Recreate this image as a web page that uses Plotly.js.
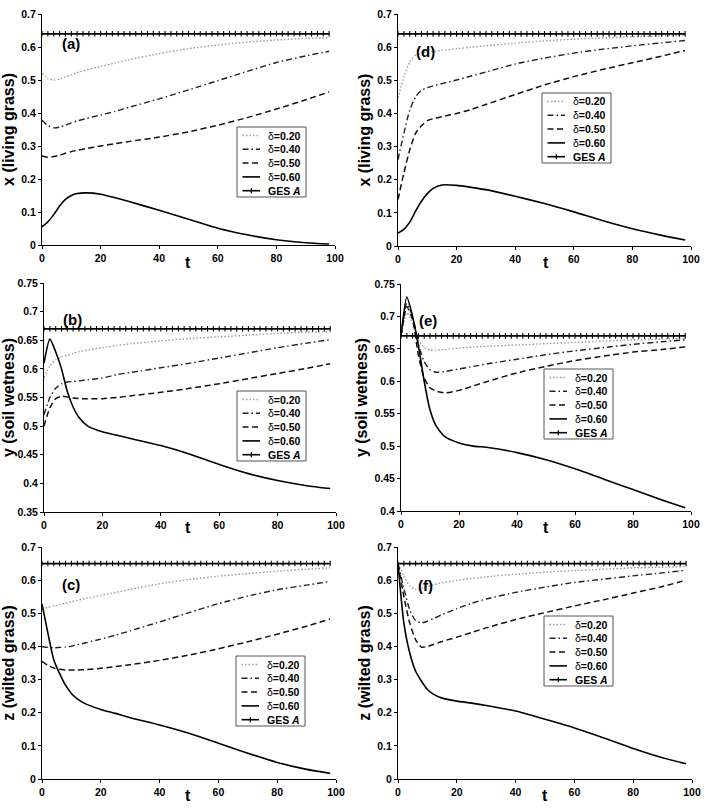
<!DOCTYPE html>
<html>
<head>
<meta charset="utf-8">
<script src="https://cdn.plot.ly/plotly-3.0.1.min.js"></script>
<style>
  html, body { margin: 0; padding: 0; background: #ffffff; }
  #chart { width: 706px; height: 811px; }
</style>
</head>
<body>
<div id="chart"></div>
<script>
// Time samples shared by every simulated trajectory
const t = [0, 2, 4, 6, 8, 10, 12, 15, 20, 25, 30, 40, 50, 60, 70, 80, 90, 98];
// Times at which the equilibrium line carries its "+" markers
const tGes = [0, 2, 4, 6, 8, 10, 12, 14, 16, 18, 20, 22, 24, 26, 28, 30, 32, 34, 36, 38,
              40, 42, 44, 46, 48, 50, 52, 54, 56, 58, 60, 62, 64, 66, 68, 70, 72, 74, 76, 78,
              80, 82, 84, 86, 88, 90, 92, 94, 96, 98];

// Equilibrium values (GES A)
const gesX = 0.64;
const gesY = 0.67;
const gesZ = 0.65;

const deltaLabels = ['δ=0.20', 'δ=0.40', 'δ=0.50', 'δ=0.60'];

// (a) living grass, first initial condition
const a_d20 = [0.520, 0.505, 0.500, 0.503, 0.510, 0.516, 0.522, 0.530, 0.541, 0.552, 0.562, 0.580, 0.595, 0.606, 0.615, 0.621, 0.626, 0.628];
const a_d40 = [0.378, 0.362, 0.355, 0.357, 0.363, 0.370, 0.376, 0.383, 0.394, 0.405, 0.418, 0.443, 0.470, 0.498, 0.526, 0.553, 0.573, 0.587];
const a_d50 = [0.270, 0.266, 0.268, 0.272, 0.278, 0.283, 0.287, 0.292, 0.300, 0.307, 0.314, 0.327, 0.343, 0.363, 0.386, 0.412, 0.440, 0.464];
const a_d60 = [0.055, 0.070, 0.092, 0.118, 0.138, 0.150, 0.156, 0.158, 0.154, 0.143, 0.131, 0.105, 0.078, 0.051, 0.031, 0.016, 0.007, 0.003];

// (b) soil wetness, first initial condition
const b_d20 = [0.585, 0.605, 0.616, 0.621, 0.624, 0.627, 0.630, 0.633, 0.637, 0.641, 0.644, 0.649, 0.653, 0.656, 0.659, 0.662, 0.664, 0.665];
const b_d40 = [0.520, 0.550, 0.566, 0.574, 0.577, 0.578, 0.579, 0.581, 0.584, 0.590, 0.594, 0.602, 0.610, 0.619, 0.628, 0.637, 0.645, 0.651];
const b_d50 = [0.500, 0.532, 0.548, 0.552, 0.551, 0.549, 0.548, 0.548, 0.548, 0.550, 0.553, 0.559, 0.566, 0.574, 0.583, 0.592, 0.601, 0.609];
const b_d60 = [0.610, 0.652, 0.630, 0.600, 0.560, 0.533, 0.515, 0.500, 0.490, 0.484, 0.478, 0.466, 0.451, 0.433, 0.417, 0.405, 0.396, 0.391];

// (c) wilted grass, first initial condition
const c_d20 = [0.515, 0.518, 0.522, 0.526, 0.530, 0.535, 0.539, 0.545, 0.554, 0.563, 0.572, 0.589, 0.602, 0.612, 0.620, 0.627, 0.633, 0.637];
const c_d40 = [0.400, 0.397, 0.396, 0.397, 0.398, 0.401, 0.405, 0.411, 0.422, 0.434, 0.447, 0.474, 0.502, 0.529, 0.552, 0.571, 0.585, 0.596];
const c_d50 = [0.355, 0.343, 0.335, 0.331, 0.329, 0.329, 0.329, 0.330, 0.334, 0.339, 0.345, 0.358, 0.374, 0.393, 0.414, 0.437, 0.461, 0.483];
const c_d60 = [0.528, 0.440, 0.360, 0.318, 0.283, 0.258, 0.242, 0.226, 0.210, 0.198, 0.185, 0.163, 0.138, 0.108, 0.078, 0.050, 0.029, 0.017];

// (d) living grass, second initial condition
const d_d20 = [0.447, 0.510, 0.555, 0.577, 0.583, 0.585, 0.587, 0.590, 0.595, 0.600, 0.604, 0.612, 0.619, 0.624, 0.628, 0.631, 0.634, 0.636];
const d_d40 = [0.260, 0.340, 0.410, 0.450, 0.470, 0.478, 0.483, 0.490, 0.501, 0.513, 0.525, 0.549, 0.567, 0.582, 0.594, 0.604, 0.613, 0.620];
const d_d50 = [0.140, 0.220, 0.290, 0.340, 0.363, 0.378, 0.384, 0.390, 0.400, 0.412, 0.427, 0.457, 0.486, 0.511, 0.533, 0.553, 0.573, 0.590];
const d_d60 = [0.039, 0.050, 0.072, 0.105, 0.135, 0.158, 0.174, 0.184, 0.183, 0.177, 0.170, 0.150, 0.128, 0.103, 0.076, 0.052, 0.032, 0.018];

// (e) soil wetness, second initial condition
const e_d20 = [0.670, 0.705, 0.690, 0.665, 0.652, 0.648, 0.648, 0.649, 0.651, 0.653, 0.654, 0.656, 0.658, 0.660, 0.662, 0.664, 0.665, 0.666];
const e_d40 = [0.670, 0.720, 0.700, 0.657, 0.630, 0.618, 0.614, 0.615, 0.619, 0.623, 0.627, 0.634, 0.641, 0.647, 0.652, 0.657, 0.661, 0.664];
const e_d50 = [0.670, 0.715, 0.695, 0.640, 0.605, 0.590, 0.585, 0.582, 0.586, 0.593, 0.600, 0.613, 0.623, 0.632, 0.639, 0.645, 0.649, 0.653];
const e_d60 = [0.670, 0.730, 0.700, 0.655, 0.600, 0.556, 0.532, 0.515, 0.505, 0.500, 0.498, 0.490, 0.479, 0.465, 0.449, 0.433, 0.417, 0.405];

// (f) wilted grass, second initial condition
const f_d20 = [0.650, 0.612, 0.583, 0.572, 0.575, 0.581, 0.586, 0.592, 0.599, 0.605, 0.610, 0.618, 0.624, 0.629, 0.633, 0.637, 0.639, 0.641];
const f_d40 = [0.650, 0.575, 0.510, 0.478, 0.471, 0.476, 0.484, 0.496, 0.514, 0.530, 0.543, 0.563, 0.579, 0.593, 0.603, 0.613, 0.622, 0.630];
const f_d50 = [0.650, 0.550, 0.470, 0.420, 0.398, 0.400, 0.406, 0.415, 0.428, 0.442, 0.456, 0.481, 0.502, 0.522, 0.541, 0.561, 0.581, 0.600];
const f_d60 = [0.650, 0.470, 0.380, 0.325, 0.295, 0.270, 0.256, 0.244, 0.235, 0.229, 0.222, 0.205, 0.180, 0.154, 0.124, 0.092, 0.064, 0.046];

// ---- drawing ----
const W = 706, H = 811;
const FONT = 'Liberation Sans, Arial, Helvetica, sans-serif';
const px = v => v / W;          // pixel column -> paper x
const py = v => 1 - v / H;      // pixel row    -> paper y

// line styles for the four δ values
const styles = [
  { color: '#9a9a9a', width: 1.4, dash: '1.5px,2px' },
  { color: '#222222', width: 1.4, dash: '6px,3px,1.5px,3px' },
  { color: '#111111', width: 1.5, dash: '6px,3.5px' },
  { color: '#000000', width: 1.6, dash: 'solid' }
];

const panels = [
  { tag: '(a)', ax: '',  series: [a_d20, a_d40, a_d50, a_d60], ges: gesX, title: 'x (living grass)',
    box: [42, 335, 14, 245], yr: [0, 0.7], dy: 0.1, label: [10, 0.61], leg: [237, 127], tPos: [188, 262] },
  { tag: '(b)', ax: '2', series: [b_d20, b_d40, b_d50, b_d60], ges: gesY, title: 'y (soil wetness)',
    box: [44, 336, 283, 512], yr: [0.35, 0.75], dy: 0.05, label: [9.6, 0.686], leg: [237, 391], tPos: [188, 527] },
  { tag: '(c)', ax: '3', series: [c_d20, c_d40, c_d50, c_d60], ges: gesZ, title: 'z (wilted grass)',
    box: [42, 336, 547, 779], yr: [0, 0.7], dy: 0.1, label: [9.9, 0.588], leg: [236, 656], tPos: [188, 795] },
  { tag: '(d)', ax: '4', series: [d_d20, d_d40, d_d50, d_d60], ges: gesX, title: 'x (living grass)',
    box: [398, 691, 14, 246], yr: [0, 0.7], dy: 0.1, label: [9.5, 0.588], leg: [542, 93], tPos: [546, 262] },
  { tag: '(e)', ax: '5', series: [e_d20, e_d40, e_d50, e_d60], ges: gesY, title: 'y (soil wetness)',
    box: [401, 691, 284, 511], yr: [0.4, 0.75], dy: 0.05, label: [9.3, 0.694], leg: [544, 369], tPos: [546, 527] },
  { tag: '(f)', ax: '6', series: [f_d20, f_d40, f_d50, f_d60], ges: gesZ, title: 'z (wilted grass)',
    box: [398, 692, 547, 779], yr: [0, 0.7], dy: 0.1, label: [9.2, 0.585], leg: [544, 616], tPos: [545, 795] }
];

const traces = [];
const layout = {
  width: W, height: H,
  margin: { l: 0, r: 0, t: 0, b: 0 },
  paper_bgcolor: '#ffffff', plot_bgcolor: '#ffffff',
  showlegend: false,
  font: { family: FONT, color: '#000000' },
  shapes: [], annotations: []
};

const tickFont = { family: FONT, size: 10.5, weight: 'bold', color: '#000000' };

panels.forEach(p => {
  const xa = 'x' + p.ax, ya = 'y' + p.ax;
  p.series.forEach((vals, i) => {
    traces.push({
      type: 'scatter', mode: 'lines', x: t, y: vals, xaxis: xa, yaxis: ya,
      name: deltaLabels[i],
      line: { color: styles[i].color, width: styles[i].width, dash: styles[i].dash, shape: 'spline', smoothing: 0.6 }
    });
  });
  traces.push({
    type: 'scatter', mode: 'lines+markers', x: tGes, y: tGes.map(() => p.ges),
    xaxis: xa, yaxis: ya, name: 'GES A',
    line: { color: '#000000', width: 1.8 },
    marker: { symbol: 'line-ns', size: 4, color: '#000000', line: { color: '#000000', width: 1.1 } }
  });

  const [l, r, top, bot] = p.box;
  layout['xaxis' + p.ax] = {
    domain: [px(l), px(r)], anchor: ya, range: [0, 100], dtick: 20, tick0: 0,
    showline: true, linecolor: '#000000', linewidth: 1, mirror: false,
    ticks: 'outside', ticklen: 3, tickwidth: 1, tickcolor: '#000000',
    showgrid: false, zeroline: false, tickfont: tickFont
  };
  layout['yaxis' + p.ax] = {
    domain: [py(bot), py(top)], anchor: xa, range: p.yr, dtick: p.dy, tick0: 0,
    showline: true, linecolor: '#000000', linewidth: 1, mirror: false,
    ticks: 'outside', ticklen: 3, tickwidth: 1, tickcolor: '#000000',
    showgrid: false, zeroline: false, tickfont: tickFont,
    title: { text: p.title, font: { family: FONT, size: 16, weight: 'bold', color: '#000000' }, standoff: 2 }
  };

  // time-axis label
  layout.annotations.push({
    xref: 'paper', yref: 'paper', x: px(p.tPos[0]), y: py(p.tPos[1]), text: '<b>t</b>',
    showarrow: false, xanchor: 'center', yanchor: 'middle',
    font: { family: FONT, size: 16, color: '#000000' }
  });

  // panel tag
  layout.annotations.push({
    xref: xa, yref: ya, x: p.label[0], y: p.label[1], text: '<b>' + p.tag + '</b>',
    showarrow: false, xanchor: 'center', yanchor: 'middle',
    font: { family: FONT, size: 15, color: '#000000' }
  });

  // legend box
  const [lx, ly] = p.leg;
  layout.shapes.push({
    type: 'rect', xref: 'paper', yref: 'paper',
    x0: px(lx), x1: px(lx + 69), y0: py(ly + 70), y1: py(ly),
    line: { color: '#555555', width: 1 }, fillcolor: '#ffffff', layer: 'above'
  });
  const labelsHtml = ['δ<b>=0.20</b>', 'δ<b>=0.40</b>', 'δ<b>=0.50</b>', 'δ<b>=0.60</b>', '<b>GES <i>A</i></b>'];
  for (let i = 0; i < 5; i++) {
    const yy = ly + 8.5 + i * 13.8;
    const st = i < 4 ? styles[i] : { color: '#000000', width: 1.6, dash: 'solid' };
    layout.shapes.push({
      type: 'line', xref: 'paper', yref: 'paper',
      x0: px(lx + 5.5), x1: px(lx + 23), y0: py(yy), y1: py(yy),
      line: { color: st.color, width: st.width, dash: st.dash }, layer: 'above'
    });
    if (i === 4) {
      layout.shapes.push({
        type: 'line', xref: 'paper', yref: 'paper',
        x0: px(lx + 14.3), x1: px(lx + 14.3), y0: py(yy - 2.5), y1: py(yy + 2.5),
        line: { color: '#000000', width: 1.2 }, layer: 'above'
      });
    }
    layout.annotations.push({
      xref: 'paper', yref: 'paper', x: px(lx + 29), y: py(yy),
      text: labelsHtml[i], showarrow: false, xanchor: 'left', yanchor: 'middle',
      font: { family: FONT, size: 10.5, color: '#000000' }
    });
  }
});

Plotly.newPlot('chart', traces, layout, { displayModeBar: false, staticPlot: true });
</script>
</body>
</html>
